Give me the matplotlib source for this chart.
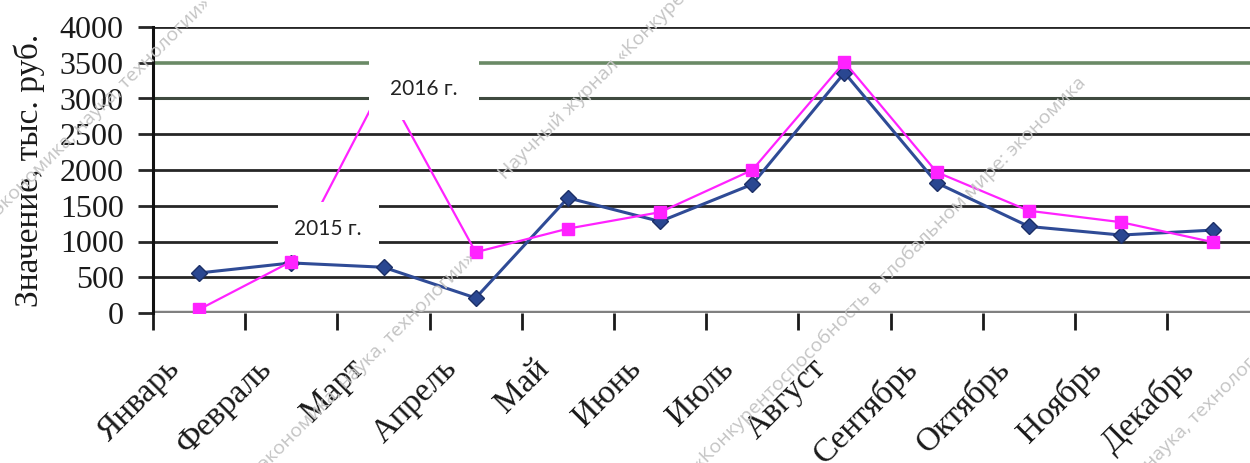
#Sales by month, 2015 vs 2016 (line chart with labels)
import numpy as np
import matplotlib.pyplot as plt
import matplotlib.transforms as mtransforms

months = ["Январь", "Февраль", "Март", "Апрель", "Май", "Июнь",
          "Июль", "Август", "Сентябрь", "Октябрь", "Ноябрь", "Декабрь"]
values_2015 = [560, 700, 640, 210, 1610, 1280, 1800, 3360, 1820, 1210, 1090, 1160]
values_2016 = [50, 720, 3200, 850, 1180, 1410, 2000, 3510, 1970, 1430, 1270, 990]
y_ticks = [0, 500, 1000, 1500, 2000, 2500, 3000, 3500, 4000]

W, H = 1250, 463
fig = plt.figure(figsize=(W / 100, H / 100), dpi=100)
ax = fig.add_axes([153 / W, 1 - 313 / H, (12 * 92.2) / W, (313 - 27) / H])

x = np.arange(len(months))

#gridlines (Excel style, the 3500 one is green)
for v in y_ticks:
    if v == 3500:
        ax.axhline(v, color='#6a8a66', lw=2.6, zorder=1)
    elif v == 3000:
        ax.axhline(v, color='#3f4a3f', lw=2.2, zorder=1)
    elif v == 0:
        ax.axhline(v, color='#808080', lw=3.2, zorder=1)
    else:
        ax.axhline(v, color='#262626', lw=2.0, zorder=1)

ax.plot(x, values_2015, color='#2f4b96', lw=2.2, marker='D', markersize=8,
        markerfacecolor='#2a4791', markeredgecolor='#1c2f66', zorder=3)
ax.plot(x, values_2016, color='#ff22ff', lw=1.6, marker='s', markersize=9,
        markerfacecolor='#ff22ff', markeredgecolor='#ff22ff', zorder=4)

#series labels with white boxes (they hide part of the lines, like the original)
ax.text(2.44, 3130, "2016 г.", fontsize=15, family='Lato', color='#222222',
        ha='center', va='center', zorder=6,
        bbox=dict(boxstyle='square,pad=1.0', facecolor='white', edgecolor='none'))
ax.text(1.40, 1180, "2015 г.", fontsize=15, family='Lato', color='#222222',
        ha='center', va='center', zorder=6,
        bbox=dict(boxstyle='square,pad=0.8', facecolor='white', edgecolor='none'))

ax.set_xlim(-0.5, 11.5)
ax.set_ylim(0, 4000)
ax.set_yticks(y_ticks)
ax.set_yticklabels([str(v) for v in y_ticks], family='Liberation Serif',
                   fontsize=23, color='#1a1a1a')
ax.tick_params(axis='y', length=11, width=2, color='#262626', pad=10)

ax.set_xticks(x)
ax.set_xticklabels(months, family='Liberation Serif', fontsize=24,
                   rotation=45, ha='right', va='top', color='#1a1a1a')
ax.tick_params(axis='x', which='major', length=0, pad=29)
ax.set_xticks(np.arange(-0.5, 12, 1), minor=True)
ax.tick_params(axis='x', which='minor', length=12, width=2, color='#1a1a1a')
#shift month labels a bit left
offset = mtransforms.ScaledTranslation(-13 / 100, 0, fig.dpi_scale_trans)
for lab in ax.get_xticklabels():
    lab.set_transform(lab.get_transform() + offset)

for side in ['top', 'right', 'bottom']:
    ax.spines[side].set_visible(False)
ax.spines['left'].set_linewidth(2.2)
ax.spines['left'].set_color('#111111')

ax.set_ylabel("Значение, тыс. руб.", family='Liberation Serif', fontsize=24,
              color='#1a1a1a')
ax.yaxis.set_label_coords(-108 / (12 * 92.2), 0.5)

#faint watermark of the journal
wm = dict(color='#c4c4c4', fontsize=14, family='Open Sans', rotation=45,
          rotation_mode='anchor', ha='left', va='baseline', zorder=0)
fig.text(0 / W, 1 - 215 / H, "экономика, наука, технологии»", **wm)
fig.text(505 / W, 1 - 180 / H, "Научный журнал «Конкурентоспособность", **wm)
fig.text(700 / W, 1 - 470 / H, "«Конкурентоспособность в глобальном мире: экономика", **wm)
fig.text(265 / W, 1 - 470 / H, "экономика, наука, технологии»", **wm)
fig.text(1150 / W, 1 - 470 / H, "наука, технологии»", **wm)

plt.savefig("out.png", dpi=100)
